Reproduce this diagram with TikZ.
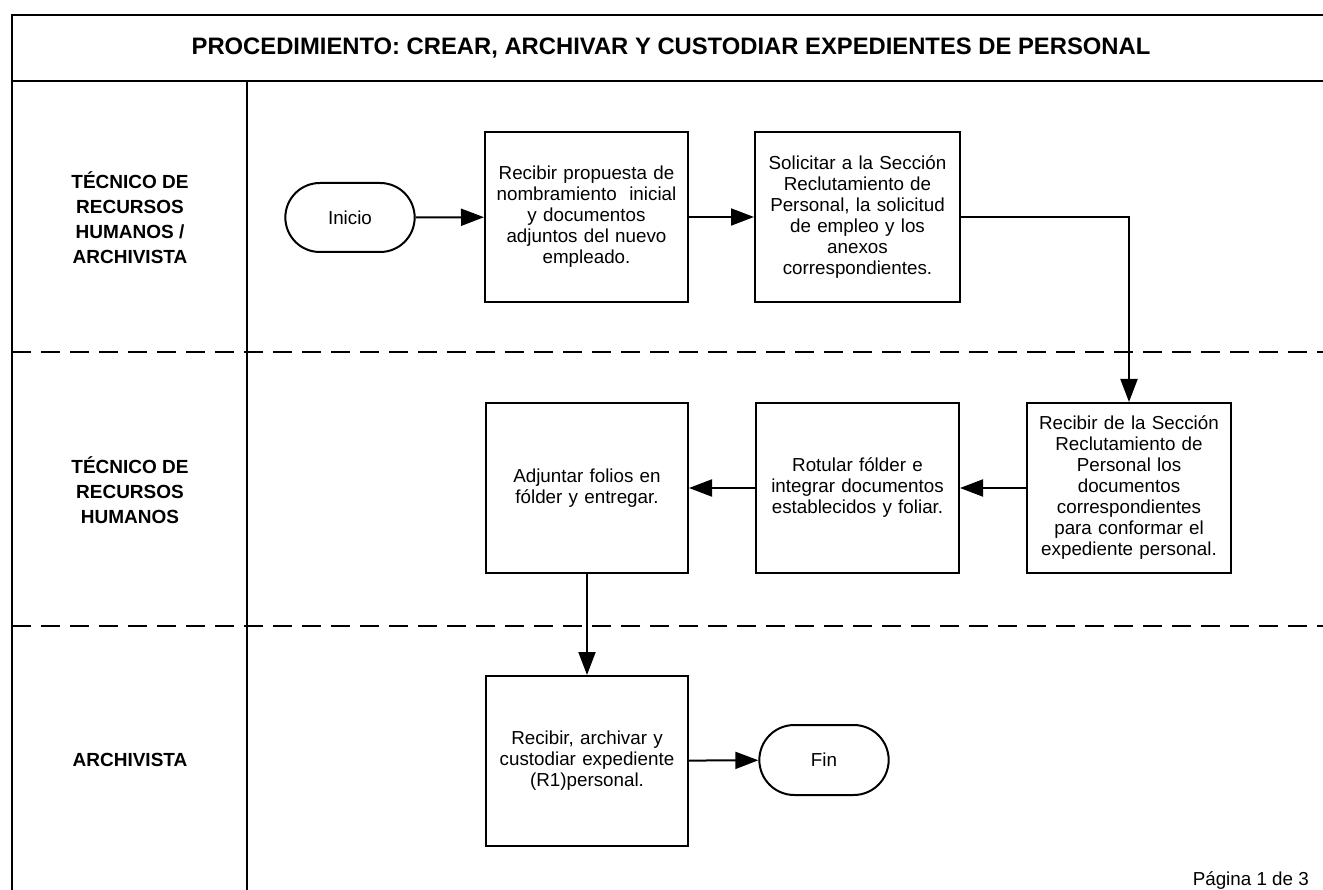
\documentclass[tikz,border=0pt]{standalone}
\usepackage{fontspec}
\setmainfont{Liberation Sans}
\usetikzlibrary{shapes.misc,arrows.meta}
\begin{document}
\begin{tikzpicture}[x=1pt,y=-1pt,
  frame/.style={line width=2.6pt},
  lanedash/.style={line width=2pt, dash pattern=on 19pt off 10pt},
  procbox/.style={draw, line width=2pt, rectangle, align=center, inner sep=3pt,
     font=\fontsize{18.8}{21}\selectfont},
  term/.style={draw, line width=2pt, rounded rectangle, align=center,
     font=\fontsize{18.8}{21}\selectfont},
  lanelabel/.style={align=center, font=\fontsize{19}{25}\selectfont\bfseries},
  flow/.style={line width=2pt, -{Triangle[length=23pt,width=17pt]}}
]
\useasboundingbox (0,0) rectangle (1323,890);
\fill[white] (0,0) rectangle (1323,890);
% frame
\coordinate (tl) at (12,15);
\coordinate (tr) at (1323,15);
\coordinate (bl) at (12,890);
\coordinate (hl) at (12,81);
\coordinate (hr) at (1323,81);
\coordinate (vt) at (247,81);
\coordinate (vb) at (247,890);
\draw[frame] (tr) -- (tl) -- (bl);
\draw[frame] (hl) -- (hr);
\draw[frame] (vt) -- (vb);
\coordinate (d1l) at (12,352);
\coordinate (d1r) at (1323,352);
\coordinate (d2l) at (12,626);
\coordinate (d2r) at (1323,626);
\draw[lanedash] (d1l) -- (d1r);
\draw[lanedash] (d2l) -- (d2r);
% title
\node[font=\fontsize{23.8}{28}\selectfont\bfseries] (title) at (671,48)
  {PROCEDIMIENTO: CREAR, ARCHIVAR Y CUSTODIAR EXPEDIENTES DE PERSONAL};
% lane labels
\node[lanelabel] (lane1) at (130,218) {TÉCNICO DE\\RECURSOS\\HUMANOS /\\ARCHIVISTA};
\node[lanelabel] (lane2) at (130,490) {TÉCNICO DE\\RECURSOS\\HUMANOS};
\node[lanelabel] (lane3) at (130,760) {ARCHIVISTA};
% nodes
\node[term, minimum width=136pt, minimum height=69pt] (inicio) at (350,217.5) {Inicio};
\node[procbox, minimum width=203pt, minimum height=170pt, text width=196pt] (b1) at (586.5,217)
  {Recibir propuesta de\\nombramiento\ \ inicial\\y documentos\\adjuntos del nuevo\\empleado.};
\node[procbox, minimum width=205pt, minimum height=170pt, text width=198pt] (b2) at (857.5,217)
  {Solicitar a la Sección\\Reclutamiento de\\Personal, la solicitud\\de empleo y los\\anexos\\correspondientes.};
\node[procbox, minimum width=204pt, minimum height=170pt, text width=198pt] (b3) at (1129,488)
  {Recibir de la Sección\\Reclutamiento de\\Personal los\\documentos\\correspondientes\\para conformar el\\expediente personal.};
\node[procbox, minimum width=203pt, minimum height=170pt, text width=196pt] (b4) at (857.5,488)
  {Rotular fólder e\\integrar documentos\\establecidos y foliar.};
\node[procbox, minimum width=202pt, minimum height=170pt, text width=196pt] (b5) at (587,488)
  {Adjuntar folios en\\fólder y entregar.};
\node[procbox, minimum width=202pt, minimum height=170pt, text width=196pt] (b6) at (587,761)
  {Recibir, archivar y\\custodiar expediente\\(R1)personal.};
\node[term, minimum width=136pt, minimum height=70pt] (fin) at (824,760) {Fin};
% connectors
\draw[flow] (inicio) -- (b1);
\draw[flow] (b1) -- (b2);
\draw[flow] (b2.east) -| (b3.north);
\draw[flow] (b3) -- (b4);
\draw[flow] (b4) -- (b5);
\draw[flow] (b5) -- (b6);
\draw[flow] (b6) -- (fin);
% page number
\node[anchor=base east, inner sep=0pt, font=\fontsize{18.8}{22}\selectfont] (pag) at (1309,885) {Página 1 de 3};
\end{tikzpicture}
\end{document}
